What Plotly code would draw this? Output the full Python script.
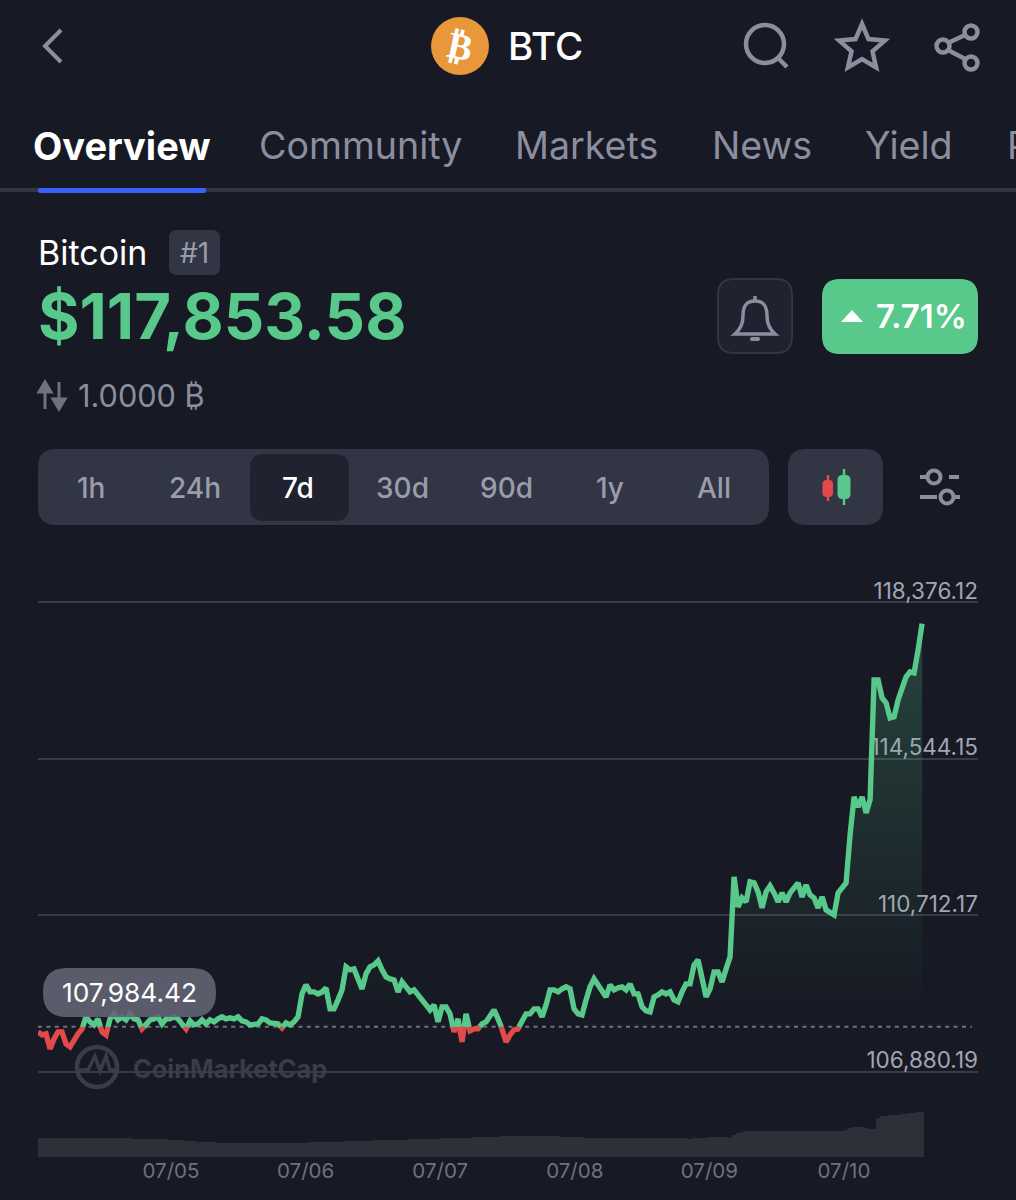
# %%
import numpy as np
import pandas as pd
import plotly.graph_objects as go

# BTC price, one reading about every 43 minutes
price = [
    107862, 107788, 107813, 107446, 107690, 107862, 107862, 107568, 107495, 107690,
    107813, 107935, 108229, 108106, 108033, 108180, 107862, 107788, 108180, 108302,
    108155, 108229, 108155, 108302, 108180, 108155, 107935, 108033, 108155, 108180,
    108229, 108057, 108180, 108180, 108229, 108180, 108057, 107935, 108131, 108033,
    108057, 108155, 108057, 108155, 108106, 108180, 108229, 108180, 108204, 108180,
    108229, 108131, 108106, 108033, 108057, 108057, 108180, 108155, 108082, 108057,
    108057, 107960, 108082, 108033, 108106, 108229, 108792, 109012, 108840, 108840,
    108792, 108840, 108938, 108424, 108424, 108645, 108889, 109452, 109379, 109403,
    109134, 108914, 109281, 109452, 109501, 109599,
    109379, 109208, 109159, 109134, 108840, 109085, 108963, 108840, 108889, 108767,
    108645, 108473, 108400, 108522, 108106, 108473, 108473, 108302, 107862, 108180,
    107617, 108302, 107886, 107935, 107935, 108057, 108106, 108278, 108400, 108180,
    107935, 107617, 107788, 107911, 107935, 108155, 108302, 108302, 108424, 108424,
    108229, 108522, 108889, 108889, 108840, 108914, 108963, 108914, 108424, 108302,
    108278, 108645, 108963, 109159, 109012, 108840, 108718, 109012, 108889, 108938,
    108963, 108889, 109036, 108792, 108792, 108473, 108376, 108351, 108718, 108767,
    108840, 108792, 108840, 108645, 108596, 108840, 109036, 109036, 109501, 109623,
    109208, 108718, 108914, 109330, 109330,
    109085, 109403, 109697, 111655, 110920, 111141, 111043, 111532, 111508, 111288,
    110896, 111288, 111434, 111263, 111043, 111263, 111043, 111263, 111385, 111508,
    111165, 111459, 111214, 111141, 110896, 111165, 110847, 110798, 110725, 111263,
    111385, 111508, 112682, 113612, 113367, 113612, 113221, 113539, 116475, 116475,
    116035, 115912, 115545, 115570, 115986, 116279, 116549, 116671, 116646, 117209,
    117854,
]

# 24h volume, billions
volume = [
    26.5, 26.7, 26.8, 26.6, 26.7, 26.9, 26.8, 26.7, 26.6, 26.8,
    26.7, 26.6, 26.5, 26.6, 26.4, 26.5, 26.3, 26.4, 26.2, 26.3,
    26.1, 26.2, 26.0, 26.1, 25.9, 25.8, 25.9, 25.7, 25.6, 25.4,
    25.2, 25.1, 24.8, 24.4, 24.0, 23.7, 23.2, 22.9, 22.4, 22.0,
    21.6, 21.2, 20.9, 20.6, 20.4, 20.3, 20.2, 20.1, 20.0, 20.0,
    19.9, 19.8, 19.8, 19.7, 19.7, 19.6, 19.6, 19.6, 19.7, 19.6,
    19.6, 19.7, 19.7, 19.8, 19.9, 20.0, 20.1, 20.2, 20.4, 20.5,
    20.7, 20.8, 21.0, 21.1, 21.3, 21.4, 21.6, 21.8, 22.0, 22.2,
    22.4, 22.7, 22.9, 23.1, 23.3, 23.5, 23.7, 23.8, 23.9, 24.1,
    24.2, 24.4, 24.5, 24.7, 24.9, 25.1, 25.2, 25.4, 25.5, 25.7,
    25.8, 26.0, 26.2, 26.4, 26.5, 26.7, 26.9, 27.1, 27.3, 27.6,
    27.9, 28.1, 28.3, 28.4, 28.5, 28.7, 28.8, 28.9, 29.0, 29.1,
    29.2, 29.2, 29.3, 29.4, 29.4, 29.5, 29.5, 29.3, 29.2, 29.0,
    28.8, 28.6, 28.4, 28.2, 28.0, 27.7, 27.5, 27.2, 26.9, 26.7,
    26.6, 26.5, 26.5, 26.4, 26.4, 26.5, 26.4, 26.5, 26.5, 26.6,
    26.5, 26.6, 26.5, 26.6, 26.7, 26.6, 26.7, 26.6, 26.7, 26.8,
    26.4, 26.2, 26.0, 25.9, 26.1, 26.4, 26.7, 27.0, 27.4, 27.8,
    28.0, 27.7, 27.4, 27.2, 30.5, 33.6, 35.0, 36.0, 36.2, 36.4,
    36.5, 36.5, 36.6, 36.6, 36.7, 36.6, 36.7, 36.7, 36.8, 36.8,
    36.9, 36.9, 37.0, 37.0, 37.1, 37.0, 36.9, 36.8, 36.8, 36.7,
    36.7, 36.6, 38.2, 40.0, 41.8, 42.0, 41.9, 41.2, 39.5, 39.2,
    54.6, 56.8, 57.6, 58.2, 58.6, 59.2, 59.8, 60.4, 61.0, 61.6,
    62.4, 63.0,
]

grid_values = [118376.12, 114544.15, 110712.17, 106880.19]
grid_labels = ['118,376.12', '114,544.15', '110,712.17', '106,880.19']
date_ticks = ['2025-07-05', '2025-07-06', '2025-07-07', '2025-07-08', '2025-07-09', '2025-07-10']
date_labels = ['07/05', '07/06', '07/07', '07/08', '07/09', '07/10']
open_price = 107984.42
tabs = ['Overview', 'Community', 'Markets', 'News', 'Yield', 'P']
ranges = ['1h', '24h', '7d', '30d', '90d', '1y', 'All']

BG = '#171a24'
GREEN = '#58c98a'
RED = '#e24a4a'
MUTED = '#8b8e9f'
PANEL = '#323543'
DARK = '#20232f'
FONT = 'Inter'

times = pd.date_range('2025-07-04 00:17', periods=len(price), freq='2568s')
t_num = (times - times[0]).total_seconds().to_numpy()

# split line at the open price so it changes colour exactly on the dashed line
p = np.array(price, dtype=float)
xs, ys = [], []
for i in range(len(p)):
    if i > 0 and (p[i - 1] - open_price) * (p[i] - open_price) < 0:
        f = (open_price - p[i - 1]) / (p[i] - p[i - 1])
        xs.append(t_num[i - 1] + f * (t_num[i] - t_num[i - 1]))
        ys.append(open_price)
    xs.append(t_num[i])
    ys.append(p[i])
xs = np.array(xs)
ys = np.array(ys)
x_dates = times[0] + pd.to_timedelta(xs, unit='s')

fig = go.Figure()

# grid labels sit under the price line, nudged a touch toward their gridline
fig.add_trace(go.Scatter(
    x=[pd.Timestamp('2025-07-10 23:54')] * 4, y=[v - 50 for v in grid_values], text=grid_labels,
    mode='text', textposition='top left', cliponaxis=False, showlegend=False,
    textfont=dict(family=FONT, size=22.5, color='#a3a5b3')))

fig.add_trace(go.Scatter(
    x=[times[0], pd.Timestamp('2025-07-10 22:49')], y=[open_price, open_price],
    mode='lines', line=dict(color='#70737f', width=2, dash='4px,4.4px'), showlegend=False))

fig.add_trace(go.Scatter(
    x=times, y=price, mode='none', fill='tozeroy', showlegend=False,
    fillgradient=dict(type='vertical', start=117860, stop=108400,
                      colorscale=[[0, 'rgba(88,201,138,0.24)'], [1, 'rgba(88,201,138,0)']])))

fig.add_trace(go.Scatter(
    x=x_dates, y=np.where(ys <= open_price, ys, np.nan), mode='lines',
    line=dict(color=RED, width=5.4), showlegend=False))
fig.add_trace(go.Scatter(
    x=x_dates, y=np.where(ys >= open_price, ys, np.nan), mode='lines',
    line=dict(color=GREEN, width=5.4), showlegend=False))

fig.add_trace(go.Bar(
    x=times, y=volume, yaxis='y2', width=2568 * 1000 * 0.86,
    marker=dict(color='#2e3039', line_width=0), showlegend=False))

# empty trace keeps the page-pixel axes alive for the app chrome
fig.add_trace(go.Scatter(x=[None], y=[None], xaxis='x3', yaxis='y3', showlegend=False))


def rrect(x0, y0, x1, y1, r):
    return (f'M{x0 + r} {y0} L{x1 - r} {y0} Q{x1} {y0} {x1} {y0 + r} L{x1} {y1 - r} Q{x1} {y1} {x1 - r} {y1} '
            f'L{x0 + r} {y1} Q{x0} {y1} {x0} {y1 - r} L{x0} {y0 + r} Q{x0} {y0} {x0 + r} {y0} Z')


shapes = []
annotations = []


def add_path(d, fill=None, line=None, width=0, layer='above'):
    shapes.append(dict(type='path', path=d, xref='x3', yref='y3', layer=layer,
                       fillcolor=fill or 'rgba(0,0,0,0)',
                       line=dict(color=line or 'rgba(0,0,0,0)', width=width)))


def add_circle(cx, cy, r, fill=None, line=None, width=0, layer='above'):
    shapes.append(dict(type='circle', x0=cx - r, x1=cx + r, y0=cy - r, y1=cy + r, xref='x3', yref='y3',
                       layer=layer, fillcolor=fill or 'rgba(0,0,0,0)',
                       line=dict(color=line or 'rgba(0,0,0,0)', width=width)))


def add_text(x, y, text, size, color, anchor='left', weight=400, family=FONT, angle=0):
    annotations.append(dict(x=x, y=y, xref='x3', yref='y3', text=text, showarrow=False, xanchor=anchor,
                            yanchor='middle', textangle=angle, borderpad=0,
                            font=dict(family=family, size=size, color=color, weight=weight)))


# header
add_path('M61 30 L45 46 L61 62', line=MUTED, width=4)
add_circle(460, 46, 29, fill='#e8973a')
add_text(460, 46, '₿', 37, 'white', 'center', 700, 'DejaVu Sans', 12)
add_text(507, 46, 'BTC', 38.5, 'white', weight=500)
add_circle(765, 44, 19, line=MUTED, width=4.5)
add_path('M778 58 L787 67', line=MUTED, width=4.5)
ang = np.deg2rad(np.arange(10) * 36 - 90)
rad = np.array([24, 11] * 5)
star = 'M' + ' L'.join(f'{862 + r * np.cos(a):.1f} {48 + r * np.sin(a):.1f}' for r, a in zip(rad, ang)) + ' Z'
add_path(star, line=MUTED, width=4.5)
add_path('M965 35 L948 43 M948 50 L965 59', line=MUTED, width=4.5)
for cx, cy in [(971, 32), (943, 46), (971, 63)]:
    add_circle(cx, cy, 6.5, line=MUTED, width=4.5)

# tab bar
tab_x = [32, 258, 514, 711, 864, 1006]
for i, t in enumerate(tabs):
    add_text(tab_x[i], 145.5, t, 38 if i == 0 else 37.6, 'white' if i == 0 else MUTED, weight=700 if i == 0 else 400)
add_path('M0 188 L1016 188 L1016 192 L0 192 Z', fill='#333544')
add_path(rrect(38, 188, 206, 193, 2), fill='#3861fb')

# name, price, change
add_text(37, 252, 'Bitcoin', 34, 'white')
add_path(rrect(169, 230, 220, 275, 8), fill=PANEL)
add_text(194.5, 253, '#1', 28, '#9a9cab', 'center')
add_text(37, 316, '$117,853.58', 63.4, GREEN, weight=700)
add_path(rrect(718, 279, 792, 353, 16), fill=DARK, line=PANEL, width=2)
add_path('M735 334 Q743 327 743 316 C743 305 747 301 755 301 C763 301 767 305 767 316 Q767 327 775 334 Z',
         line=MUTED, width=3.5)
add_path('M755 296 L755 301', line=MUTED, width=3.5)
add_path(rrect(750, 337, 760, 341, 2), fill=MUTED)
add_path(rrect(822, 279, 978, 354, 18), fill=GREEN)
add_path('M841 322 L852 310 L863 322 Z', fill='white')
add_text(875, 316, '7.71%', 33, 'white', weight=600)
add_path('M45 409 L45 384 M39 392 L45 382 L51 392 Z', fill='#6e7180', line='#6e7180', width=3)
add_path('M59 382 L59 407 M53 399 L59 409 L65 399 Z', fill='#6e7180', line='#6e7180', width=3)
add_text(77, 395, '1.0000 ₿', 30.7, MUTED)

# range selector
add_path(rrect(38, 449, 769, 525, 18), fill=PANEL)
add_path(rrect(250, 454, 349, 521, 14), fill=DARK)
range_x = [91, 195, 298, 402, 506, 610, 714]
for i, r in enumerate(ranges):
    add_text(range_x[i], 488, r, 28, 'white' if r == '7d' else '#9a9cab', 'center', 500)
add_path(rrect(788, 449, 883, 525, 18), fill=PANEL)
add_path('M828 475 L828 501', line=RED, width=2.5)
add_path(rrect(822.5, 480, 833, 497, 4), fill=RED)
add_path('M844 469 L844 505', line=GREEN, width=2.5)
add_path(rrect(837.5, 475, 850.5, 499, 5), fill=GREEN)
add_circle(934, 477, 6.5, line=MUTED, width=4)
add_path('M920 477 L926 477 M949 477 L959 477 M920 497 L937 497 M954 497 L960 497', line=MUTED, width=4)
add_circle(947, 497, 6.5, line=MUTED, width=4)

# watermark
add_circle(97, 1067, 20, line='#3a3d48', width=4.5, layer='below')
add_path('M78 1070 L88 1070 L95 1056 L100 1071 L106 1056 L110 1070 L116 1070', line='#3a3d48', width=3.5, layer='below')
add_text(132, 1068, 'CoinMarketCap', 25.4, '#3a3d48', weight=700)

# open price pill
add_path(rrect(43, 968, 216, 1017, 24), fill='rgba(98,100,116,0.9)')
add_text(129.5, 992, '107,984.42', 26.3, 'white', 'center')

fig.update_layout(
    width=1016, height=1200,
    margin=dict(l=0, r=0, t=0, b=0),
    paper_bgcolor=BG, plot_bgcolor='rgba(0,0,0,0)',
    showlegend=False,
    bargap=0,
    shapes=shapes,
    annotations=annotations,
    xaxis=dict(domain=[38 / 1016, 978 / 1016], anchor='y2',
               range=[times[0], pd.Timestamp('2025-07-10 23:54')],
               tickmode='array', tickvals=date_ticks, ticktext=date_labels,
               showgrid=False, zeroline=False, showline=False, ticks='',
               ticklabelstandoff=-1,
               tickfont=dict(family=FONT, size=20.5, color='#6e7180')),
    yaxis=dict(domain=[1 - 1090 / 1200, 1 - 580 / 1200], anchor='x',
               range=[106439.7, 118919.4],
               tickmode='array', tickvals=grid_values, showticklabels=False,
               showgrid=True, gridcolor='#393b49', gridwidth=2, zeroline=False, showline=False),
    yaxis2=dict(domain=[1 - 1157 / 1200, 1 - 1100 / 1200], anchor='x', range=[0, 79.8],
                showgrid=False, showticklabels=False, zeroline=False, showline=False),
    xaxis3=dict(domain=[0, 1], range=[0, 1016], visible=False, anchor='y3', fixedrange=True),
    yaxis3=dict(domain=[0, 1], range=[1200, 0], visible=False, anchor='x3', fixedrange=True),
)

fig.write_html('out.html', config=dict(displayModeBar=False),
               post_script="document.body.style.margin='0';document.body.style.background='#171a24';")
